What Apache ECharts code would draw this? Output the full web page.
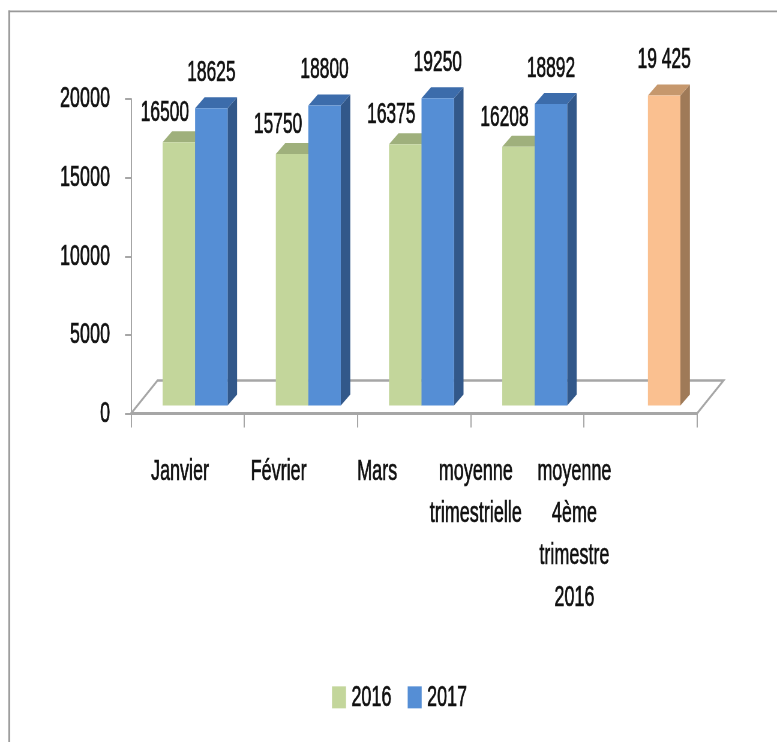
<!DOCTYPE html>
<html>
<head>
<meta charset="utf-8">
<script src="https://cdn.jsdelivr.net/npm/echarts@6/dist/echarts.min.js"></script>
<style>
html, body { margin: 0; padding: 0; overflow: hidden; background: #fff; width: 777px; height: 742px; }
#c { width: 1295px; height: 742px; transform: scaleX(0.6); transform-origin: 0 0; }
</style>
</head>
<body>
<div id="c"></div>
<script>
// ---- data ----
const categories = ['Janvier', 'Février', 'Mars', 'moyenne\ntrimestrielle', 'moyenne\n4ème\ntrimestre\n2016'];
const seriesNames = ['2016', '2017'];
const values2016 = [16500, 15750, 16375, 16208, null];
const values2017 = [18625, 18800, 19250, 18892, 19425];
const labels2016 = ['16500', '15750', '16375', '16208', ''];
const labels2017 = ['18625', '18800', '19250', '18892', '19 425'];
const yTicks = [0, 5000, 10000, 15000, 20000];

// ---- styles ----
const S = 0.6;                       // horizontal squeeze of the whole picture
const px = v => v / S;               // reference px -> unsqueezed px
const W = 777 / S, H = 742;
const FONT = 'Liberation Sans';
const TXT = '#111';
const TXT_STROKE = 0.7;
const GRID_L = px(131), GRID_R = W - px(697), GRID_T = 99, GRID_B = H - 413.5;
const FLOOR_DX = px(26.5), FLOOR_DY = -33;
const BAR_SHIFT_X = px(7.5), BAR_SHIFT_Y = -8;
const BAR_DEPTH_X = px(9.5), BAR_DEPTH_Y = -11;
const BAR_FRAC = 0.287;
const PERSP = 1.015;
const AXIS_GRAY = '#a6a6a6';
const palettes = [
  { front: '#c3d69b', top: '#9fb07c', side: '#8b9a68' },
  { front: '#558ed5', top: '#3c6cab', side: '#32588a' }
];
const highlight = { index: 4, front: '#fac090', top: '#c6986d', side: '#9f7a58' };
const labelOffsets = [ { dx: px(-14), dy: -29 }, { dx: 0, dy: -35 } ];

function toData(vals) {
  const out = [];
  vals.forEach((v, i) => { if (v !== null && v !== undefined) out.push([i, v]); });
  return out;
}

function makeRender(k, labels) {
  return function (params, api) {
    const i = api.value(0);
    const v = api.value(1);
    const c = api.coord([i, v]);
    const c0 = api.coord([i, 0]);
    const bw = api.size([1, 0])[0];
    const w = bw * BAR_FRAC;
    const x0 = c0[0] + BAR_SHIFT_X + (k === 0 ? -w : 0);
    const base = c0[1] + BAR_SHIFT_Y;
    const top = base - (c0[1] - c[1]) * PERSP;
    let pal = palettes[k];
    if (k === 1 && i === highlight.index) pal = highlight;
    const dx = BAR_DEPTH_X, dy = BAR_DEPTH_Y;
    const off = labelOffsets[k];
    return {
      type: 'group',
      children: [
        { type: 'polygon', shape: { points: [[x0 + w, top], [x0 + w + dx, top + dy], [x0 + w + dx, base + dy], [x0 + w, base]] },
          style: { fill: pal.side } },
        { type: 'polygon', shape: { points: [[x0, top], [x0 + w, top], [x0 + w + dx, top + dy], [x0 + dx, top + dy]] },
          style: { fill: pal.top } },
        { type: 'rect', shape: { x: x0, y: top, width: w, height: base - top },
          style: { fill: pal.front } },
        { type: 'text', z2: 10,
          style: { text: labels[i], x: x0 + w / 2 + off.dx, y: top + off.dy,
                   align: 'center', verticalAlign: 'middle',
                   fontSize: 29, fontFamily: FONT, fill: TXT,
                   stroke: TXT, lineWidth: TXT_STROKE } }
      ]
    };
  };
}

const chart = echarts.init(document.getElementById('c'), null, { width: W, height: H });
chart.setOption({
  animation: false,
  backgroundColor: '#ffffff',
  graphic: [
    { type: 'rect', shape: { x: px(8.3), y: 10.5, width: px(1.8), height: H }, style: { fill: '#999999' }, z: 100 },
    { type: 'rect', shape: { x: px(8.3), y: 10.5, width: W, height: 1.8 }, style: { fill: '#999999' }, z: 100 }
  ],
  grid: [
    { left: GRID_L, right: GRID_R, top: GRID_T, bottom: GRID_B, containLabel: false },
    { left: px(130.7), width: px(493), top: GRID_T, bottom: GRID_B, containLabel: false }
  ],
  legend: {
    data: seriesNames,
    left: px(329), top: 677,
    icon: 'rect', itemWidth: px(14), itemHeight: 22, itemGap: px(16),
    textStyle: { fontSize: 30, fontFamily: FONT, color: TXT, textBorderColor: TXT, textBorderWidth: TXT_STROKE, padding: [0, 0, 0, 4] }
  },
  xAxis: [
    { type: 'category', gridIndex: 0, data: categories, boundaryGap: true,
      axisLine: { show: true, lineStyle: { color: AXIS_GRAY, width: 3 } },
      axisTick: { show: true, interval: 0, length: 14, alignWithLabel: false, lineStyle: { color: AXIS_GRAY, width: 2 } },
      axisLabel: { show: false }, splitLine: { show: false } },
    { type: 'category', gridIndex: 1, data: categories, boundaryGap: true,
      axisLine: { show: false }, axisTick: { show: false }, splitLine: { show: false },
      axisLabel: { show: true, interval: 0, margin: 37, fontSize: 30, lineHeight: 42, fontFamily: FONT, color: TXT,
                   textBorderColor: TXT, textBorderWidth: TXT_STROKE, align: 'center', hideOverlap: false } }
  ],
  yAxis: [
    { type: 'value', gridIndex: 0, min: yTicks[0], max: yTicks[yTicks.length - 1], interval: 5000,
      axisLine: { show: true, lineStyle: { color: AXIS_GRAY, width: 2 } },
      axisTick: { show: true, length: px(6), lineStyle: { color: AXIS_GRAY, width: 2 } },
      axisLabel: { show: true, margin: px(21), fontSize: 30, fontFamily: FONT, color: TXT,
                   textBorderColor: TXT, textBorderWidth: TXT_STROKE, padding: [5, 0, 0, 0], formatter: v => String(v) },
      splitLine: { show: false } },
    { type: 'value', gridIndex: 1, min: 0, max: 20000, show: false, splitLine: { show: false } }
  ],
  series: [
    { name: 'floor', type: 'custom', xAxisIndex: 0, yAxisIndex: 0, z: 1, silent: true,
      data: [[0, 0]],
      renderItem: function (params, api) {
        const cs = params.coordSys;
        const xl = cs.x, xr = cs.x + cs.width, yb = cs.y + cs.height;
        return { type: 'polyline',
          shape: { points: [[xl, yb], [xl + FLOOR_DX, yb + FLOOR_DY], [xr + FLOOR_DX, yb + FLOOR_DY], [xr, yb]] },
          style: { stroke: AXIS_GRAY, lineWidth: 2.5, fill: null } };
      } },
    { name: seriesNames[0], type: 'custom', xAxisIndex: 0, yAxisIndex: 0, z: 2,
      itemStyle: { color: palettes[0].front },
      data: toData(values2016), renderItem: makeRender(0, labels2016) },
    { name: seriesNames[1], type: 'custom', xAxisIndex: 0, yAxisIndex: 0, z: 3,
      itemStyle: { color: palettes[1].front },
      data: toData(values2017), renderItem: makeRender(1, labels2017) }
  ]
});
</script>
</body>
</html>
